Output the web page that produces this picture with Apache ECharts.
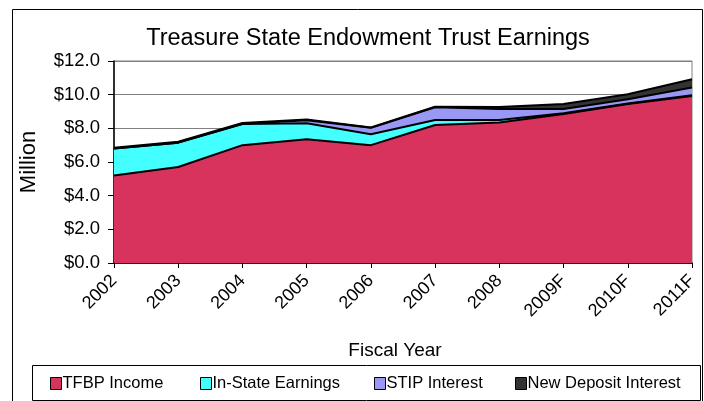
<!DOCTYPE html>
<html>
<head>
<meta charset="utf-8">
<script src="https://cdn.jsdelivr.net/npm/echarts@6/dist/echarts.min.js"></script>
<style>
html,body{margin:0;padding:0;background:#fff;}
#chart{width:704px;height:401px;}
</style>
</head>
<body>
<div id="chart"></div>
<script>
var categories = ['2002','2003','2004','2005','2006','2007','2008','2009F','2010F','2011F'];
var tfbpIncome = [5.2, 5.7, 7.0, 7.35, 7.0, 8.2, 8.35, 8.85, 9.45, 9.92];
var inStateEarnings = [1.6, 1.45, 1.25, 0.95, 0.65, 0.3, 0.15, 0.05, 0.03, 0.05];
var stipInterest = [0, 0, 0.02, 0.18, 0.38, 0.75, 0.65, 0.25, 0.25, 0.45];
var newDepositInterest = [0.05, 0.05, 0.05, 0.05, 0.02, 0.03, 0.12, 0.3, 0.3, 0.5];
var yTicks = [0, 2, 4, 6, 8, 10, 12];

var FONT = 'Liberation Sans, Arial, sans-serif';
var chart = echarts.init(document.getElementById('chart'), null, {renderer: 'canvas'});

function mkSeries(name, data, color) {
  return {
    name: name, type: 'line', stack: 'total', data: data,
    symbol: 'none', color: color,
    lineStyle: {color: '#000', width: 2},
    areaStyle: {color: color, opacity: 1},
    emphasis: {disabled: true}
  };
}
function mkLegend(name, left) {
  return {
    data: [name], left: left, top: 375, padding: 0,
    icon: 'rect', itemWidth: 11, itemHeight: 12,
    itemStyle: {borderColor: '#000', borderWidth: 1},
    textStyle: {fontFamily: FONT, fontSize: 16.5, color: '#000', padding: [0,0,0,-4]},
    selectedMode: false
  };
}

chart.setOption({
  animation: false,
  title: {
    text: 'Treasure State Endowment Trust Earnings',
    left: 363, top: 22, textAlign: 'center',
    textStyle: {fontFamily: FONT, fontSize: 23.5, fontWeight: 'normal', color: '#000'}
  },
  graphic: [
    {type: 'rect', shape: {x: 12.5, y: 9.5, width: 690, height: 420}, style: {fill: 'none', stroke: '#000', lineWidth: 1}, z: -1},
    {type: 'rect', shape: {x: 32.5, y: 365.5, width: 668, height: 35}, style: {fill: 'none', stroke: '#000', lineWidth: 1}, z: -1}
  ],
  legend: [
    mkLegend('TFBP Income', 50),
    mkLegend('In-State Earnings', 200),
    mkLegend('STIP Interest', 374),
    mkLegend('New Deposit Interest', 515)
  ],
  grid: {left: 114, right: 12, top: 61, bottom: 138, show: true, borderColor: '#808080', borderWidth: 1},
  xAxis: {
    type: 'category', data: categories, boundaryGap: false,
    name: 'Fiscal Year', nameLocation: 'middle', nameGap: 78,
    nameTextStyle: {fontFamily: FONT, fontSize: 19, color: '#000', padding: [0, 16, 0, 0]},
    axisLine: {lineStyle: {color: '#000', width: 1.5}},
    axisTick: {show: true, alignWithLabel: true, length: 5, lineStyle: {color: '#000'}},
    axisLabel: {rotate: 45, fontFamily: FONT, fontSize: 18, color: '#000', margin: 15}
  },
  yAxis: {
    type: 'value', min: 0, max: 12, interval: 2,
    name: 'Million', nameLocation: 'middle', nameGap: 74, nameRotate: 90,
    nameTextStyle: {fontFamily: FONT, fontSize: 22, color: '#000'},
    axisLine: {show: true, lineStyle: {color: '#000', width: 1.5}},
    axisTick: {show: true, length: 6, lineStyle: {color: '#000'}},
    splitLine: {lineStyle: {color: '#808080', width: 1}},
    axisLabel: {fontFamily: FONT, fontSize: 18.5, color: '#000', margin: 14,
      formatter: function (v) { return yTicks.indexOf(v) >= 0 ? '$' + v.toFixed(1) : ''; }}
  },
  series: [
    mkSeries('TFBP Income', tfbpIncome, '#D8335C'),
    mkSeries('In-State Earnings', inStateEarnings, '#44FFFF'),
    mkSeries('STIP Interest', stipInterest, '#9999F5'),
    mkSeries('New Deposit Interest', newDepositInterest, '#333333')
  ]
});
</script>
</body>
</html>
